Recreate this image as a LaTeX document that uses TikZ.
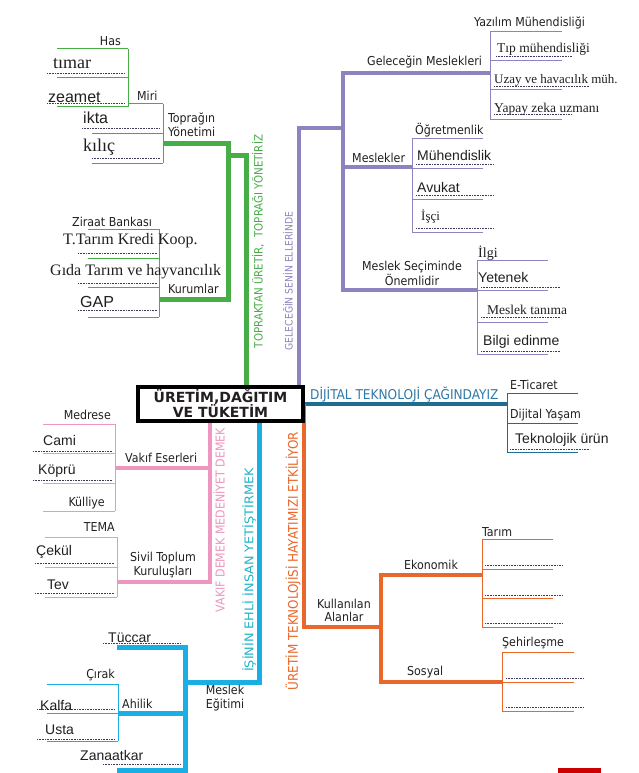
\documentclass[tikz,border=0pt]{standalone}
\usepackage{fontspec}
\setmainfont{Liberation Serif}
\newfontfamily\cf{DejaVu Sans Condensed}
\newfontfamily\af{Liberation Sans}
\newfontfamily\tf{DejaVu Sans}
\definecolor{txt}{HTML}{231F20}
\definecolor{gr}{HTML}{47AE47}
\definecolor{pu}{HTML}{8C84BE}
\definecolor{te}{HTML}{1F6C93}
\definecolor{tel}{HTML}{2F79A8}
\definecolor{pk}{HTML}{EE95C0}
\definecolor{cy}{HTML}{1AAFE4}
\definecolor{cyt}{HTML}{22B4C8}
\definecolor{or}{HTML}{E9672A}
\definecolor{dotc}{HTML}{3A3A5A}
\begin{document}
\begin{tikzpicture}[x=1pt,y=-1pt,
  lab/.style={inner sep=0pt, font=\cf\fontsize{12.3}{14}\selectfont, text=txt},
  big/.style={inner sep=0pt, font=\af\fontsize{14}{16}\selectfont, text=txt},
  ser/.style={inner sep=0pt, font=\fontsize{#1}{#1}\selectfont, text=txt},
  ser/.default=13.5,
  thinl/.style={line width=1pt},
  thk/.style={line width=#1, line join=miter},
  dotl/.style={line width=0.8pt, draw=dotc, dash pattern=on 0.7pt off 0.9pt},
  vl/.style={inner sep=0pt, rotate=90},
]
\useasboundingbox[fill=white] (0,0) rectangle (639,773);

% ================= GREEN =================
\begin{scope}[draw=gr]
\draw[thk=5pt] (163,143) -- (228,143) -- (228,299) -- (160,299);
\draw[thk=5pt] (228,155) -- (246,155) -- (246,404);
\draw[thinl] (128,49) -- (128,107);
\draw[thinl] (57,49) -- (128,49) (57,78) -- (128,78) (57,107) -- (128,107);
\draw[thinl] (128,104) -- (163,104);
\draw[thinl] (163,104) -- (163,163);
\draw[thinl] (92,133) -- (163,133) (92,163) -- (163,163);
\draw[thinl] (159,229) -- (159,317);
\draw[thinl] (88,229) -- (159,229) (88,258) -- (159,258) (88,287) -- (159,287) (88,317) -- (159,317);
\end{scope}
\draw[dotl] (47,73) -- (125,73) (47,103) -- (125,103) (82,128) -- (160,128) (92,158) -- (160,158);
\draw[dotl] (78,253) -- (157,253) (78,283) -- (157,283) (78,310) -- (157,310);

\node[lab, anchor=east] (has) at (121,41) {Has};
\node[lab, anchor=west] (miri) at (137,96) {Miri};
\node[lab, anchor=west, align=left, font=\cf\fontsize{12.3}{14}\selectfont] (topyon) at (168,125) {Toprağın\\Yönetimi};
\node[ser=18, anchor=west] (timar) at (53,64) {tımar};
\node[big, anchor=west, font=\af\fontsize{16}{18}\selectfont] (zeamet) at (48,97) {zeamet};
\node[big, anchor=west, font=\af\fontsize{16}{18}\selectfont] (ikta) at (83,118) {ikta};
\node[ser=18, anchor=west] (kilic) at (83,147) {kılıç};
\node[lab, anchor=west] (ziraat) at (72,222) {Ziraat Bankası};
\node[ser=16, anchor=west] (ttarim) at (63,241) {T.Tarım Kredi Koop.};
\node[ser=16, anchor=west] (gida) at (50,272) {Gıda Tarım ve hayvancılık};
\node[big, anchor=west, font=\af\fontsize{16}{18}\selectfont] (gap) at (80,302) {GAP};
\node[lab, anchor=west] (kurum) at (168,289) {Kurumlar};
\node[vl, text=gr, font=\cf\fontsize{11.4}{12}\selectfont] (vgreen) at (258,241.5) {TOPRAKTAN ÜRETİR,\ \ TOPRAĞI YÖNETİRİZ};

% ================= PURPLE =================
\begin{scope}[draw=pu]
\draw[thk=4.5pt] (299,404) -- (299,128) -- (343,128);
\draw[thk=4.5pt] (490,73) -- (343,73) -- (343,290) -- (477,290);
\draw[thk=4.5pt] (343,167) -- (412,167);
\draw[thinl] (490,32) -- (490,120);
\draw[thinl] (490,32) -- (562,32) (490,61) -- (562,61) (490,90) -- (562,90) (490,120) -- (562,120);
\draw[thinl] (412,138) -- (412,232);
\draw[thinl] (412,138) -- (483,138) (412,168) -- (483,168) (412,199) -- (483,199) (412,232) -- (483,232);
\draw[thinl] (477,260) -- (477,354);
\draw[thinl] (477,260) -- (548,260) (477,290) -- (548,290) (477,322) -- (548,322) (477,354) -- (548,354);
\end{scope}
\draw[dotl] (496,56) -- (572,56) (494,86) -- (590,86) (494,114) -- (572,114);
\draw[dotl] (416,164) -- (494,164) (416,195) -- (494,195) (416,228) -- (494,228);
\draw[dotl] (481,287) -- (560,287) (481,317) -- (560,317) (481,351) -- (560,351);

\node[lab, anchor=west] (gelm) at (367,62) {Geleceğin Meslekleri};
\node[lab, anchor=west] (yazilim) at (474,23) {Yazılım Mühendisliği};
\node[ser=13.5, anchor=west] (tip) at (497,49) {Tıp mühendisliği};
\node[ser=13, anchor=west] (uzay) at (494,80) {Uzay ve havacılık müh.};
\node[ser=13.5, anchor=west] (yapay) at (494,109) {Yapay zeka uzmanı};
\node[lab, anchor=west] (ogret) at (415,130) {Öğretmenlik};
\node[lab, anchor=west] (meslekler) at (352,158) {Meslekler};
\node[big, anchor=west] (muh) at (417,155) {Mühendislik};
\node[big, anchor=west] (avukat) at (417,187) {Avukat};
\node[ser=13, anchor=west] (isci) at (421,217) {İşçi};
\node[lab, align=center, font=\cf\fontsize{12.3}{13}\selectfont] (msecim) at (412,273.5) {Meslek Seçiminde\\Önemlidir};
\node[ser=14, anchor=west] (ilgi) at (478,253) {İlgi};
\node[big, anchor=west] (yetenek) at (478,277) {Yetenek};
\node[ser=13.5, anchor=west] (mtanima) at (487,310) {Meslek tanıma};
\node[big, anchor=west] (bilgi) at (483,342) {Bilgi edinme};
\node[vl, text=pu, font=\cf\fontsize{10.3}{12}\selectfont] (vpurple) at (288,281) {GELECEĞİN SENİN ELLERİNDE};

% ================= TEAL =================
\draw[te, thk=3.5pt] (221,404) -- (507,404);
\begin{scope}[draw=te]
\draw[thinl] (507,393) -- (507,452);
\draw[thinl] (507,393) -- (578,393) (507,423) -- (578,423) (507,452) -- (578,452);
\end{scope}
\draw[dotl] (510,449) -- (590,449);
\node[inner sep=0pt, anchor=west, text=tel, font=\cf\fontsize{13.5}{15}\selectfont] (dijital) at (310,395) {DİJİTAL TEKNOLOJİ ÇAĞINDAYIZ};
\node[lab, anchor=west] (eticaret) at (510,385) {E-Ticaret};
\node[lab, anchor=west] (dyasam) at (510,415) {Dijital Yaşam};
\node[big, anchor=west] (tekurun) at (515,440) {Teknolojik ürün};

% ================= PINK =================
\begin{scope}[draw=pk]
\draw[thk=4pt] (115,468) -- (210,468);
\draw[thk=4pt] (210,404) -- (210,582) -- (117,582);
\draw[thinl] (115,424) -- (115,511);
\draw[thinl] (43,424) -- (115,424) (43,453) -- (115,453) (43,483) -- (115,483) (43,511) -- (115,511);
\draw[thinl] (117,537) -- (117,597);
\draw[thinl] (45,537) -- (117,537) (45,567) -- (117,567) (45,597) -- (117,597);
\end{scope}
\draw[dotl] (33,451) -- (112,451) (33,480) -- (112,480) (35,563) -- (114,563) (35,593) -- (114,593);
\node[lab, anchor=east] (medrese) at (111,415) {Medrese};
\node[big, anchor=west] (cami) at (43,440) {Cami};
\node[big, anchor=west] (kopru) at (38,471) {Köprü};
\node[lab, anchor=east] (kulliye) at (105,503) {Külliye};
\node[lab, anchor=west] (vakif) at (125,458) {Vakıf Eserleri};
\node[lab, anchor=east] (tema) at (115,527) {TEMA};
\node[big, anchor=west] (cekul) at (36,552) {Çekül};
\node[big, anchor=west] (tev) at (47,585) {Tev};
\node[lab, align=center] (sivil) at (163,565) {Sivil Toplum\\Kuruluşları};
\node[vl, text=pk, font=\cf\fontsize{12.3}{13}\selectfont] (vpink) at (219,520) {VAKIF DEMEK MEDENİYET DEMEK};

% ================= CYAN =================
\begin{scope}[draw=cy]
\draw[thk=5pt] (259,404) -- (259,682) -- (185,682);
\draw[thk=5pt] (117,647) -- (185,647) -- (185,770) -- (117,770);
\draw[thk=5pt] (118,713) -- (185,713);
\draw[thinl] (118,684) -- (118,741);
\draw[thinl] (47,684) -- (118,684) (47,713) -- (118,713) (47,741) -- (118,741);
\end{scope}
\draw[dotl] (103,643) -- (180,643) (103,764) -- (180,764) (37,709) -- (115,709) (37,739) -- (115,739);
\node[big, anchor=west] (tuccar) at (108,638) {Tüccar};
\node[lab, anchor=east] (cirak) at (115,675) {Çırak};
\node[big, anchor=west] (kalfa) at (40,705) {Kalfa};
\node[big, anchor=west] (usta) at (45,730) {Usta};
\node[big, anchor=west] (zanaat) at (80,755) {Zanaatkar};
\node[lab, anchor=west] (ahilik) at (122,704) {Ahilik};
\node[lab, align=center] (megitim) at (225,698) {Meslek\\Eğitimi};
\node[vl, text=cyt, font=\cf\fontsize{12}{13}\selectfont] (vcyan) at (249,570) {\scalebox{1.19}[1]{İŞİNİN EHLİ İNSAN YETİŞTİRMEK}};

% ================= ORANGE =================
\begin{scope}[draw=or]
\draw[thk=4pt] (304,404) -- (304,627) -- (381,627);
\draw[thk=4pt] (482,575) -- (381,575) -- (381,682) -- (502,682);
\draw[thinl] (482,539) -- (482,627);
\draw[thinl] (482,539) -- (553,539) (482,569) -- (553,569) (482,598) -- (553,598) (482,627) -- (553,627);
\draw[thinl] (502,652) -- (502,711);
\draw[thinl] (502,652) -- (574,652) (502,682) -- (574,682) (502,711) -- (574,711);
\end{scope}
\draw[dotl] (485,565) -- (563,565) (485,595) -- (563,595) (485,623) -- (563,623) (506,678) -- (584,678) (506,707) -- (584,707);
\node[lab, anchor=west] (tarim) at (482,532) {Tarım};
\node[lab, anchor=west] (ekonomik) at (404,565) {Ekonomik};
\node[lab, align=center, font=\cf\fontsize{12.3}{13}\selectfont] (kullan) at (344,610) {Kullanılan\\Alanlar};
\node[lab, anchor=west] (sosyal) at (407,672) {Sosyal};
\node[lab, anchor=west] (sehir) at (502,643) {Şehirleşme};
\node[vl, text=or, font=\cf\fontsize{13.3}{14}\selectfont] (vorange) at (293,561) {ÜRETİM TEKNOLOJİSİ HAYATIMIZI ETKİLİYOR};

% ================= CENTER BOX =================
\node[draw=black, fill=white, line width=4pt, minimum width=165pt, minimum height=34pt, inner sep=0pt, align=center,
      font=\tf\bfseries\fontsize{14}{15}\selectfont, text=txt] (box) at (220.5,404) {ÜRETİM,DAĞITIM\\VE TÜKETİM};

% page corner mark
\fill[red!80!black] (558,768) rectangle (601,773);
\end{tikzpicture}
\end{document}
